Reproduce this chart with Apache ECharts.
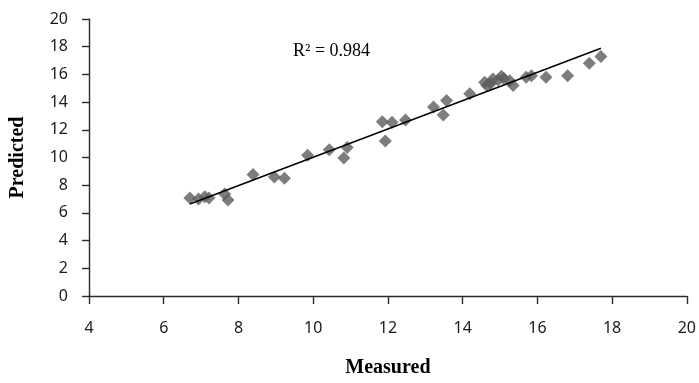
<!DOCTYPE html>
<html>
<head>
<meta charset="utf-8">
<script src="https://cdn.jsdelivr.net/npm/echarts@6/dist/echarts.min.js"></script>
<style>
html,body{margin:0;padding:0;background:#fff;}
#chart{width:699px;height:383px;}
</style>
</head>
<body>
<div id="chart"></div>
<script>
var measured = [6.70, 6.93, 7.10, 7.21, 7.63, 7.72, 8.39, 8.96, 9.23, 9.85, 10.43, 10.91, 10.82, 11.85, 11.93, 12.11, 12.47, 13.22, 13.48, 13.57, 14.19, 14.59, 14.65, 14.75, 14.81, 14.95, 15.04, 15.10, 15.26, 15.35, 15.70, 15.84, 16.23, 16.81, 17.39, 17.70];
var predicted = [7.07, 7.00, 7.17, 7.07, 7.36, 6.93, 8.78, 8.60, 8.50, 10.16, 10.56, 10.73, 9.97, 12.59, 11.20, 12.54, 12.70, 13.65, 13.06, 14.12, 14.60, 15.43, 15.20, 15.35, 15.67, 15.60, 15.86, 15.70, 15.55, 15.19, 15.79, 15.90, 15.79, 15.90, 16.81, 17.29];
var xTicks = [4, 6, 8, 10, 12, 14, 16, 18, 20];
var yTicks = [0, 2, 4, 6, 8, 10, 12, 14, 16, 18, 20];
var r2Label = 'R² = 0.984';
var xName = 'Measured';
var yName = 'Predicted';

// least-squares trend line from the data
var n = measured.length, sx = 0, sy = 0, sxx = 0, sxy = 0;
for (var i = 0; i < n; i++) { sx += measured[i]; sy += predicted[i]; sxx += measured[i]*measured[i]; sxy += measured[i]*predicted[i]; }
var slope = (n*sxy - sx*sy) / (n*sxx - sx*sx);
var icpt = (sy - slope*sx) / n;
var xmin = Math.min.apply(null, measured), xmax = Math.max.apply(null, measured);
var trend = [[xmin, icpt + slope*xmin], [xmax, icpt + slope*xmax]];

var pts = measured.map(function(v, i){ return [v, predicted[i]]; });

var chart = echarts.init(document.getElementById('chart'), null, {renderer: 'canvas'});
var axisCol = '#2a2a2a';
var labelFont = {color: '#1a1a1a', fontFamily: 'Noto Sans', fontSize: 16};
chart.setOption({
  animation: false,
  backgroundColor: '#fff',
  grid: {left: 88, right: 11, top: 19, bottom: 83, containLabel: false},
  xAxis: {
    type: 'value', min: xTicks[0], max: xTicks[xTicks.length-1], interval: 2,
    name: xName, nameLocation: 'middle', nameGap: 62,
    nameTextStyle: {fontFamily: 'Liberation Serif', fontWeight: 'bold', fontSize: 20, color: '#000'},
    axisLine: {lineStyle: {color: axisCol, width: 1.4}},
    axisTick: {show: true, length: 8, lineStyle: {color: axisCol, width: 1.4}},
    axisLabel: Object.assign({margin: 24}, labelFont),
    splitLine: {show: false}
  },
  yAxis: {
    type: 'value', min: yTicks[0], max: yTicks[yTicks.length-1], interval: 2,
    name: yName, nameLocation: 'middle', nameGap: 61, nameRotate: 90,
    nameTextStyle: {fontFamily: 'Liberation Serif', fontWeight: 'bold', fontSize: 20, color: '#000'},
    axisLine: {show: true, lineStyle: {color: axisCol, width: 1.4}},
    axisTick: {show: true, length: 7, lineStyle: {color: axisCol, width: 1.4}},
    axisLabel: Object.assign({margin: 21}, labelFont),
    splitLine: {show: false}
  },
  graphic: [{
    type: 'text', left: 293, top: 42,
    style: {text: r2Label, font: '18px "Liberation Serif"', fill: '#000'}
  }],
  series: [{
    type: 'scatter', data: pts, symbol: 'diamond', symbolSize: 13,
    itemStyle: {color: '#5c5c5c'}, z: 2
  }, {
    type: 'line', data: trend, symbol: 'none',
    lineStyle: {color: '#000', width: 1.5}, z: 3
  }]
});
</script>
</body>
</html>
